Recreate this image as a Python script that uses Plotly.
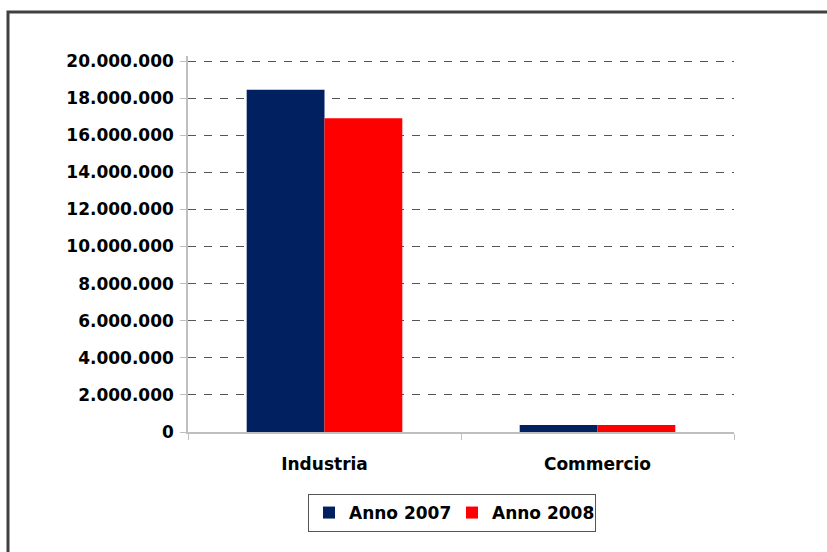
import plotly.graph_objects as go

categories = ["Industria", "Commercio"]
anno_2007 = [18450000, 380000]
anno_2008 = [16920000, 380000]
series_names = ["Anno 2007", "Anno 2008"]

FONT = "DejaVu Sans"
W, H = 827, 552
L, R, T, B = 188, 93, 56, 120
pw, ph = W - L - R, H - T - B
YMAX = 20000000 * ph / 371.0

def px_x(p):
    return (p - L) / pw

def px_y(p):
    return (H - B - p) / ph

fig = go.Figure()
fig.add_trace(go.Bar(x=categories, y=anno_2007, name=series_names[0],
                     marker=dict(color="#002060", line=dict(width=0))))
fig.add_trace(go.Bar(x=categories, y=anno_2008, name=series_names[1],
                     marker=dict(color="#FF0000", line=dict(width=0))))

fig.update_layout(
    width=W, height=H,
    margin=dict(l=L, r=R, t=T, b=B, pad=0),
    paper_bgcolor="white", plot_bgcolor="white",
    barmode="group", bargap=0.43, bargroupgap=0,
    separators=",.",
    font=dict(family=FONT, size=17, color="black"),
    showlegend=True,
    legend=dict(orientation="h", x=px_x(452), xanchor="center",
                y=px_y(494), yanchor="top",
                bordercolor="#555555", borderwidth=1,
                font=dict(family=FONT, size=17, color="black", weight="bold"),
                itemwidth=30, entrywidth=98, tracegroupgap=0),
    xaxis=dict(showline=True, linecolor="#BFBFBF", linewidth=1.5,
               ticks="outside", ticklen=6, tickcolor="#BFBFBF",
               tickson="boundaries", ticklabelstandoff=16,
               tickfont=dict(family=FONT, size=17, color="black", weight="bold"),
               showgrid=False),
    yaxis=dict(range=[0, YMAX], tickvals=[i * 2000000 for i in range(11)],
               tickformat=",.0f",
               showline=True, linecolor="#BFBFBF", linewidth=1.5,
               ticks="outside", ticklen=6, tickcolor="#BFBFBF",
               ticklabelstandoff=3,
               showgrid=True, gridcolor="#555555", gridwidth=1,
               griddash="8px,8px", zeroline=False,
               tickfont=dict(family=FONT, size=17, color="black", weight="bold")),
)

fig.add_shape(type="rect", xref="paper", yref="paper",
              x0=px_x(8), x1=px_x(W + 20), y0=px_y(H + 20), y1=px_y(12),
              line=dict(color="#404040", width=3), fillcolor="rgba(0,0,0,0)",
              layer="above")

fig.write_html("out.html", config={"displayModeBar": False},
               post_script="document.body.style.margin='0';document.body.style.overflow='hidden';")
